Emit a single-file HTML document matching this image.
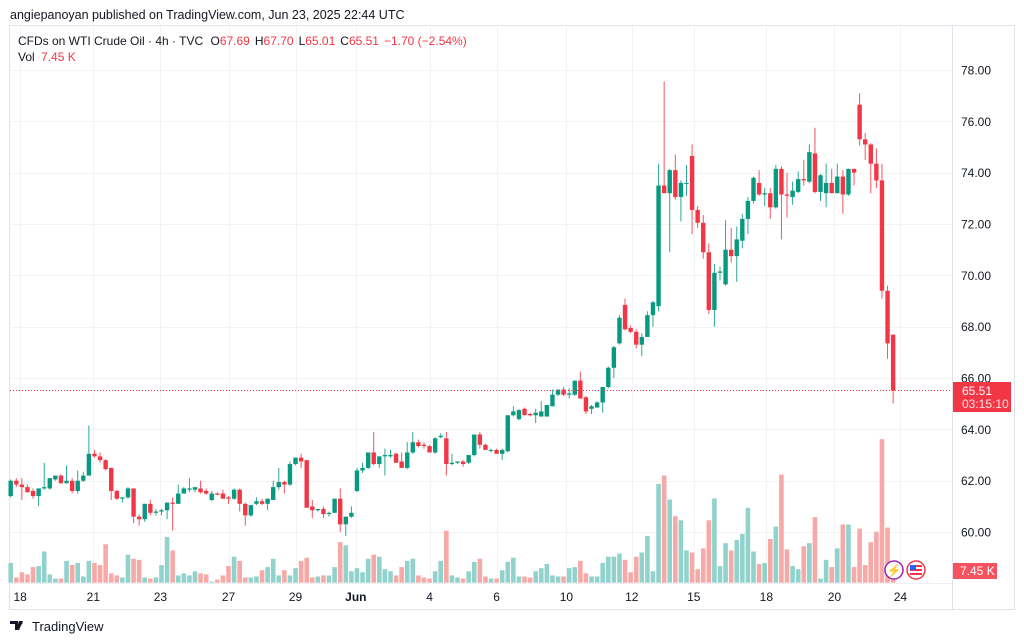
<!DOCTYPE html>
<html><head><meta charset="utf-8"><style>
html,body{margin:0;padding:0;background:#fff;}
svg{display:block;font-family:"Liberation Sans",sans-serif;}
</style></head><body>
<svg id="c" width="1024" height="642" viewBox="0 0 1024 642" xmlns="http://www.w3.org/2000/svg">
<rect x="0" y="0" width="1024" height="642" fill="#fff"/>
<text x="10" y="19" font-size="12.5" fill="#131722">angiepanoyan published on TradingView.com, Jun 23, 2025 22:44 UTC</text>
<rect x="9.5" y="25.5" width="1005" height="584" fill="none" stroke="#e0e3eb"/>
<line x1="952.5" y1="26" x2="952.5" y2="609" stroke="#e0e3eb"/>
<line x1="10" y1="583.5" x2="952" y2="583.5" stroke="#eef0f4"/>
<g id="grid"></g>
<g id="vol"></g>
<g id="candles"></g>
<line x1="10" x2="952" y1="390.5" y2="390.5" stroke="#f23645" stroke-dasharray="1,2"/>
<g id="axes"></g>
<text x="18" y="45" font-size="12" fill="#131722">CFDs on WTI Crude Oil · 4h · TVC <tspan dx="4">O</tspan><tspan fill="#f23645">67.69</tspan><tspan dx="5">H</tspan><tspan fill="#f23645">67.70</tspan><tspan dx="5">L</tspan><tspan fill="#f23645">65.01</tspan><tspan dx="5">C</tspan><tspan fill="#f23645">65.51</tspan><tspan dx="5" fill="#f23645">−1.70 (−2.54%)</tspan></text>
<text x="18" y="61" font-size="12" fill="#131722">Vol <tspan dx="3" fill="#f23645">7.45 K</tspan></text>
<rect x="953" y="382" width="58" height="30" fill="#f23645"/>
<text x="962" y="395" font-size="12" fill="#fff">65.51</text>
<text x="962" y="408" font-size="12" fill="#fde0e2">03:15:10</text>
<rect x="953" y="563" width="44" height="16" fill="#f7525f"/>
<text x="960" y="575" font-size="12" fill="#fff">7.45 K</text>
<g><circle cx="894" cy="570" r="9" fill="#fff" stroke="#9c27b0" stroke-width="1.5"/><text x="894" y="574.5" font-size="12" fill="#9c27b0" text-anchor="middle">⚡</text></g>
<g><circle cx="916" cy="570" r="9" fill="#fff" stroke="#f23645" stroke-width="1.5"/><rect x="910" y="565" width="12" height="10" fill="#f23645"/><rect x="910" y="567" width="12" height="2" fill="#fff"/><rect x="910" y="571" width="12" height="2" fill="#fff"/><rect x="910" y="565" width="6" height="5" fill="#2962ff"/></g>
<g><path d="M10 621h8v9h-3v-6h-5zM19 621h4l-4 9h-3z" fill="#131722"/><circle cx="21" cy="623" r="1.5" fill="#131722"/></g>
<text x="32" y="631" font-size="13" fill="#131722">TradingView</text>
</svg>
<script>
const opens=[61.4,62.0,61.85,61.75,61.6,61.4,61.7,61.7,62.05,62.2,61.9,62.0,61.6,62.0,62.2,63.05,62.95,62.8,62.5,61.6,61.3,61.35,61.7,60.6,60.5,61.1,60.75,60.8,60.85,61.15,61.1,61.5,61.65,61.65,61.7,61.6,61.25,61.5,61.5,61.35,61.3,61.65,61.1,60.65,61.1,61.2,61.1,61.25,61.75,61.95,61.85,62.65,62.9,62.8,61.0,60.85,60.9,60.7,60.75,61.3,60.3,60.6,61.6,62.4,62.5,63.1,62.65,62.95,62.95,63.05,62.75,62.5,63.1,63.5,63.4,63.35,63.1,63.7,63.65,62.65,62.7,62.75,62.7,63.0,63.8,63.4,63.2,63.2,63.05,63.15,64.55,64.4,64.8,64.6,64.55,64.5,64.5,64.9,65.35,65.55,65.35,65.35,65.9,65.25,64.8,64.85,65.05,65.65,66.4,67.35,68.85,67.95,67.8,67.3,67.6,68.45,68.8,73.5,73.2,74.1,73.05,73.6,74.65,72.55,72.05,70.9,68.65,70.1,69.65,71.0,70.75,71.35,72.2,72.9,73.6,73.15,73.2,72.65,74.15,73.15,73.05,73.25,73.75,73.65,74.75,73.25,73.2,73.6,73.2,73.85,73.15,74.15,76.65,75.3,75.1,74.35,73.7,69.4,67.69];
const highs=[62.05,62.1,62.1,61.85,61.7,61.7,62.7,62.1,62.2,62.25,62.6,62.1,62.4,62.35,64.15,63.2,63.1,62.85,62.5,61.65,61.35,61.75,61.7,60.7,61.1,61.25,60.9,60.9,61.15,61.35,61.85,61.75,62.1,61.75,62.0,61.7,61.6,61.55,61.65,61.4,61.7,61.7,61.15,61.05,61.35,61.3,61.3,62.0,62.5,62.0,62.75,62.9,63.05,62.8,61.25,60.9,61.0,60.8,61.3,61.7,60.6,61.0,62.5,62.7,63.1,63.9,62.95,63.25,63.2,63.1,63.1,63.5,63.9,63.6,63.5,63.4,63.7,63.85,63.9,63.05,62.75,62.8,63.0,63.8,63.9,63.45,63.25,63.25,63.25,64.55,64.9,64.8,64.85,64.65,64.8,65.1,64.95,65.55,65.55,65.65,65.6,65.9,66.25,65.3,64.95,65.1,65.65,66.45,67.25,68.45,69.1,68.05,67.9,67.75,68.6,69.0,74.35,77.55,74.15,74.7,73.7,74.3,75.1,72.7,72.35,71.25,70.45,70.35,72.15,71.85,71.9,72.4,73.05,73.85,74.1,73.4,73.4,74.3,74.25,74.0,73.65,74.05,74.5,75.1,75.75,73.95,74.35,74.15,74.35,74.1,74.15,74.15,77.1,75.55,75.15,74.95,74.35,69.6,67.7];
const lows=[61.35,61.75,61.25,61.55,61.3,61.0,61.65,61.65,62.0,61.9,61.9,61.5,61.5,61.95,62.2,62.9,62.7,62.4,61.25,61.25,61.15,61.3,60.35,60.25,60.4,60.65,60.65,60.65,60.5,60.05,61.1,61.5,61.55,61.55,61.5,61.45,61.2,61.45,61.3,61.1,61.25,60.8,60.25,60.6,61.05,61.05,60.85,61.25,61.65,61.5,61.8,62.6,62.5,60.95,60.55,60.8,60.55,60.6,60.75,60.0,59.85,60.55,61.55,62.3,62.45,62.6,62.5,62.2,62.9,62.7,62.5,62.45,63.05,63.3,63.25,63.1,63.05,63.65,62.2,62.6,62.65,62.55,62.65,62.95,63.25,63.2,63.1,63.05,62.8,63.1,64.5,64.35,64.55,64.5,64.25,64.5,64.5,64.9,65.3,65.3,65.2,65.3,65.2,64.6,64.6,64.85,64.65,65.6,66.0,67.3,67.85,67.75,67.15,66.85,67.6,68.0,68.6,73.2,70.9,72.95,72.1,73.1,71.6,71.85,70.65,68.5,68.0,69.8,69.6,70.5,69.75,71.05,71.6,72.8,73.1,72.7,72.2,72.6,71.4,72.25,72.75,73.2,73.5,73.6,73.2,72.9,72.65,73.2,73.2,72.4,73.1,73.5,75.05,74.5,73.2,73.4,69.1,66.75,65.01];
const closes=[62.0,61.85,61.75,61.55,61.4,61.7,61.75,62.1,62.2,61.9,62.0,61.6,62.0,62.2,63.05,62.95,62.8,62.45,61.6,61.3,61.35,61.7,60.6,60.5,61.1,60.75,60.8,60.85,61.15,61.1,61.5,61.7,61.7,61.75,61.55,61.5,61.5,61.45,61.3,61.3,61.65,61.1,60.65,61.05,61.2,61.1,61.3,61.75,61.95,61.85,62.65,62.9,62.75,60.95,60.85,60.9,60.7,60.75,61.3,60.3,60.6,60.75,62.4,62.5,63.1,62.65,62.95,63.0,63.0,62.7,62.5,63.1,63.5,63.35,63.35,63.1,63.65,63.75,62.65,62.7,62.75,62.65,63.0,63.8,63.4,63.2,63.2,63.05,63.2,64.55,64.7,64.75,64.55,64.55,64.65,64.7,64.95,65.35,65.55,65.35,65.4,65.9,65.2,64.7,64.9,65.05,65.65,66.4,67.2,68.35,67.9,67.8,67.3,67.6,68.45,68.95,73.5,73.2,74.1,73.05,73.6,73.6,72.55,72.05,70.9,68.65,70.1,70.15,71.0,70.75,71.4,72.2,72.9,73.8,73.15,73.2,72.65,74.15,73.15,73.1,73.3,73.75,73.7,74.8,73.25,73.9,73.6,73.2,73.85,73.15,74.15,74.0,75.3,75.1,74.35,73.7,69.4,67.35,65.51];
const volumes=[19,5,10,8,15,16,30,8,4,4,21,17,19,6,21,19,17,37,9,7,5,27,23,22,5,4,5,17,44,31,7,9,7,11,9,8,1,3,7,16,25,21,5,5,6,12,15,23,7,12,7,14,21,24,5,6,7,7,15,39,36,11,14,10,23,27,25,13,11,7,15,21,23,7,5,4,11,21,50,7,5,4,11,20,23,6,4,4,12,20,24,6,6,5,11,14,18,7,6,6,14,15,21,9,6,6,19,25,25,28,22,10,25,29,45,11,95,103,80,64,60,31,29,13,33,60,81,16,38,31,41,47,72,30,18,19,42,54,104,32,16,13,35,38,63,4,22,15,33,56,56,15,52,17,39,49,138,53,5];
const priceTicks=[60,62,64,66,68,70,72,74,76,78];
const dateLabels=["18","21","23","27","29","Jun","4","6","10","12","15","18","20","24"];
const dateCandleIdx=[1.7,14.8,26.8,39,51,61.8,75,87,99.5,111.2,122.3,135.3,147.5,159.3];

const NS="http://www.w3.org/2000/svg";
const X0=10.7, STEP=5.585;
function xScale(i){return X0+i*STEP;}
function yScale(p){return 70+(78-p)*25.67;}
const VOLBASE=582.7;
function vScale(v){return VOLBASE-v*1.04;}
function mk(tag,attrs,parent){const e=document.createElementNS(NS,tag);for(const k in attrs)e.setAttribute(k,attrs[k]);parent.appendChild(e);return e;}

const grid=document.getElementById('grid');
const axes=document.getElementById('axes');
priceTicks.forEach(p=>{
  const y=Math.round(yScale(p))+0.5;
  const l=mk('line',{x1:10,x2:952,y1:y,y2:y,stroke:'#f2f3f5'},grid);
  
  
  const t=mk('text',{x:961,y:yScale(p)+4.5,'font-size':12,fill:'#131722'},axes);
  t.textContent=p.toFixed(2);
  
  
});
dateLabels.forEach((d,k)=>{
  const x=xScale(dateCandleIdx[k]);
  const l=mk('line',{x1:Math.round(x)+0.5,x2:Math.round(x)+0.5,y1:26,y2:583,stroke:'#f2f3f5'},grid);
  
  
  const t=mk('text',{x:x,y:601,'font-size':12,fill:'#131722','text-anchor':'middle','font-weight':d==='Jun'?'bold':'normal'},axes);
  t.textContent=d;
  
  
});

const vg=document.getElementById('vol');
const cg=document.getElementById('candles');
for(let i=0;i<closes.length;i++){
  const up=closes[i]>=opens[i];
  const x=xScale(i);
  const vy=vScale(volumes[i]);
  const vb=mk('rect',{x:x-2.3,y:vy,width:4.6,height:VOLBASE-vy,fill:up?'#92d2cc':'#f7a9a7'},vg);
  
  
  const col=up?'#089981':'#f23645';
  const w=mk('line',{x1:x,x2:x,y1:yScale(highs[i]),y2:yScale(lows[i]),stroke:col,'stroke-width':1,opacity:0.85},cg);
  
  
  const yt=yScale(Math.max(opens[i],closes[i])), yb=yScale(Math.min(opens[i],closes[i]));
  const b=mk('rect',{x:x-2.2,y:yt,width:4.4,height:Math.max(1,yb-yt),fill:col},cg);
  
  
}
</script>
</body></html>
